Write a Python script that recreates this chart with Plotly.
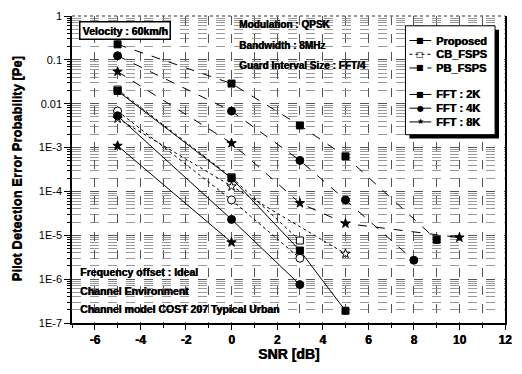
import plotly.graph_objects as go

# ---- measured pilot detection error probability vs SNR ----
# PB_FSPS (dashed lines, filled markers)
pb_2k_snr = [-5, 0, 3, 5, 9]
pb_2k_pe = [0.226, 0.0288, 3.2e-3, 6.3e-4, 7.9e-6]
pb_4k_snr = [-5, 0, 3, 5, 8]
pb_4k_pe = [0.124, 0.0068, 5.1e-4, 6.4e-5, 2.7e-6]
pb_8k_snr = [-5, 0, 3, 5, 10]
pb_8k_pe = [0.054, 0.00126, 5.4e-5, 1.86e-5, 8.9e-6]

# CB_FSPS (dotted lines, open markers)
cb_2k_snr = [-5, 0, 3]
cb_2k_pe = [0.021, 2.1e-4, 7.6e-6]
cb_4k_snr = [-5, 0, 3]
cb_4k_pe = [0.0068, 6.4e-5, 3.0e-6]
cb_8k_snr = [-5, 0, 5]
cb_8k_pe = [0.0046, 1.3e-4, 3.8e-6]

# Proposed (solid lines, filled markers)
pr_2k_snr = [-5, 0, 3, 5]
pr_2k_pe = [0.0196, 2.0e-4, 4.5e-6, 1.9e-7]
pr_4k_snr = [-5, 0, 3]
pr_4k_pe = [0.0053, 2.3e-5, 7.5e-7]
pr_8k_snr = [-5, 0]
pr_8k_pe = [0.0011, 6.9e-6]

x_ticks = [-6, -4, -2, 0, 2, 4, 6, 8, 10, 12]
x_ticktext = ["-6", "-4", "-2", "0", "2", "4", "6", "8", "10", "12"]
y_ticks = [1, 0.1, 0.01, 1e-3, 1e-4, 1e-5, 1e-6, 1e-7]
y_ticktext = ["1", "0.1", "0.01", "1E-3", "1E-4", "1E-5", "1E-6", "1E-7"]

legend_methods = ["Proposed", "CB_FSPS", "PB_FSPS"]
legend_fft = ["FFT : 2K", "FFT : 4K", "FFT : 8K"]

FONT = "Arial, Liberation Sans, sans-serif"
HEAVY = "0.6px 0px 0px black"   # slight horizontal smear for a heavier print look

fig = go.Figure()

symbols = {"2k": "square", "4k": "circle", "8k": "star"}
sizes = {"2k": 7, "4k": 8, "8k": 7}


def add_series(snr, pe, fft, dash, hollow):
    sym = symbols[fft]
    fig.add_trace(go.Scatter(
        x=snr, y=pe, mode="lines+markers", showlegend=False,
        line=dict(color="black", width=1, dash=dash),
        marker=dict(symbol=sym, size=sizes[fft],
                    color="white" if hollow else "black",
                    line=dict(color="black", width=1)),
    ))


add_series(pb_2k_snr, pb_2k_pe, "2k", "dash", False)
add_series(pb_4k_snr, pb_4k_pe, "4k", "dash", False)
add_series(pb_8k_snr, pb_8k_pe, "8k", "dash", False)
add_series(cb_2k_snr, cb_2k_pe, "2k", "dot", True)
add_series(cb_4k_snr, cb_4k_pe, "4k", "dot", True)
add_series(cb_8k_snr, cb_8k_pe, "8k", "dot", True)
add_series(pr_2k_snr, pr_2k_pe, "2k", "solid", False)
add_series(pr_4k_snr, pr_4k_pe, "4k", "solid", False)
add_series(pr_8k_snr, pr_8k_pe, "8k", "solid", False)

# plot-area geometry in pixels (for placing text boxes)
W_FIG, H_FIG = 522, 374
L, R, T, B = 72, 507, 10, 323


def px(x):
    return (x - L) / (R - L)


def py(y):
    return (B - y) / (B - T)


annotations = []
shapes = []


def text(x, y, s, size=10, anchor="left", **kw):
    annotations.append(dict(
        xref="paper", yref="paper", x=px(x), y=py(y), text="<b>%s</b>" % s,
        showarrow=False, xanchor=anchor, yanchor="middle",
        font=dict(family=FONT, size=size, color="black", weight=700,
                  shadow=HEAVY), **kw))


# info boxes
text(79, 25, "Velocity : 60km/h", size=10.5, bordercolor="black",
     borderwidth=1.5, borderpad=2, bgcolor="white")
text(238, 19, "Modulation : QPSK")
text(238, 40, "Bandwidth : 8MHz")
text(238, 60, "Guard Interval Size : FFT/4")
text(78, 271, "Frequency offset : Ideal", size=10.5)
text(78, 290, "Channel Environment", size=10.5)
text(78, 309, "Channel model COST 207 Typical Urban", size=10.5)

# legend box with drop shadow
shapes.append(dict(type="rect", xref="paper", yref="paper",
                   x0=px(411), x1=px(501), y0=py(135), y1=py(24),
                   fillcolor="black", line=dict(width=0), layer="above"))
shapes.append(dict(type="rect", xref="paper", yref="paper",
                   x0=px(407), x1=px(497), y0=py(131), y1=py(20),
                   fillcolor="white", line=dict(color="black", width=1),
                   layer="above"))

legend_rows = [
    (35, legend_methods[0], "solid", "■"),
    (49, legend_methods[1], "dot", "□"),
    (63, legend_methods[2], "dash", "■"),
    (90, legend_fft[0], "solid", "■"),
    (104, legend_fft[1], "solid", "●"),
    (118, legend_fft[2], "solid", "★"),
]
for yy, label, dash, glyph in legend_rows:
    shapes.append(dict(type="line", xref="paper", yref="paper",
                       x0=px(411), x1=px(433), y0=py(yy), y1=py(yy),
                       line=dict(color="black", width=1, dash=dash),
                       layer="above"))
    annotations.append(dict(
        xref="paper", yref="paper", x=px(422), y=py(yy), text=glyph,
        showarrow=False, xanchor="center", yanchor="middle",
        font=dict(family="DejaVu Sans", size=8, color="black")))
    text(436, yy, label, size=11)

# top frame line (dashed grey like the grid)
shapes.append(dict(type="line", xref="paper", yref="paper",
                   x0=0, x1=1, y0=1, y1=1,
                   line=dict(color="#777", width=1.5, dash="dot")))

# axis titles
annotations.append(dict(
    xref="paper", yref="paper", x=px(290), y=py(355), text="<b>SNR [dB]</b>",
    showarrow=False, xanchor="center", yanchor="middle",
    font=dict(family=FONT, size=14, color="black", weight=700, shadow=HEAVY)))
annotations.append(dict(
    xref="paper", yref="paper", x=px(16), y=py(166),
    text="<b>Pilot Detection Error Probability [Pe]</b>", textangle=-90,
    showarrow=False, xanchor="center", yanchor="middle",
    font=dict(family=FONT, size=13, color="black", weight=700,
              shadow="0px 0.6px 0px black")))

minor_y = [m * 10.0 ** k for k in range(-7, 0) for m in range(2, 10)]

fig.update_layout(
    width=W_FIG, height=H_FIG,
    margin=dict(l=L, r=W_FIG - R, t=T, b=H_FIG - B, pad=0),
    paper_bgcolor="white", plot_bgcolor="white",
    showlegend=False,
    annotations=annotations, shapes=shapes,
    xaxis=dict(
        range=[-7, 12], tickmode="array", tickvals=x_ticks,
        ticktext=["<b>%s</b>" % t for t in x_ticktext],
        ticks="outside", ticklen=5, tickwidth=1, tickcolor="black",
        showline=True, linecolor="black", linewidth=1.5,
        showgrid=True, gridcolor="#555", griddash="dash", gridwidth=1,
        zeroline=False,
        tickfont=dict(family=FONT, size=12, color="black", weight=700,
                      shadow=HEAVY),
        minor=dict(dtick=1, tick0=-7, ticks="outside", ticklen=3,
                   tickcolor="black", showgrid=True, gridcolor="#555",
                   griddash="dash", gridwidth=1),
    ),
    yaxis=dict(
        type="log", range=[-7, 0], tickmode="array", tickvals=y_ticks,
        ticktext=y_ticktext,
        ticks="outside", ticklen=6, tickwidth=1, tickcolor="black",
        showline=True, linecolor="black", linewidth=1.5, mirror=True,
        showgrid=True, gridcolor="#555", griddash="dash", gridwidth=1,
        zeroline=False,
        tickfont=dict(family=FONT, size=11, color="black"),
        minor=dict(tickmode="array", tickvals=minor_y, ticks="outside",
                   ticklen=3, tickcolor="black", showgrid=True,
                   gridcolor="#999", griddash="dash", gridwidth=1),
    ),
)

fig.write_html("out.html")
